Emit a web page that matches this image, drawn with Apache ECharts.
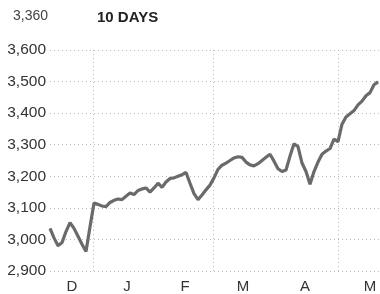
<!DOCTYPE html>
<html>
<head>
<meta charset="utf-8">
<script src="https://cdn.jsdelivr.net/npm/echarts@6/dist/echarts.min.js"></script>
<style>
  html, body { margin: 0; padding: 0; background: #fff; }
  #chart { width: 380px; height: 294px; }
</style>
</head>
<body>
<div id="chart"></div>
<script>
// month labels and where they sit, in sample steps
const months = ['D', 'J', 'F', 'M', 'A', 'M']
const monthPos = [5.5, 19.25, 33.75, 48.25, 63.75, 80]
// dotted vertical guides, in sample steps
const guidePos = [10.75, 40.75, 72]
// index level, sampled evenly from early Dec to late May
const closes = [
  3035, 3005, 2980, 2990, 3025, 3053, 3035, 3010, 2985, 2962,
  3040, 3115, 3111, 3106, 3104, 3117, 3124, 3128, 3126, 3137,
  3147, 3142, 3155, 3160, 3163, 3150, 3163, 3178, 3165, 3182,
  3193, 3195, 3200, 3205, 3212, 3178, 3145, 3126, 3141, 3157,
  3172, 3195, 3222, 3235, 3242, 3250, 3258, 3262, 3260, 3245,
  3236, 3233, 3240, 3250, 3260, 3270, 3248, 3224, 3215, 3220,
  3264, 3303, 3294, 3242, 3215, 3175, 3215, 3245, 3270, 3280,
  3288, 3318, 3310, 3365, 3388, 3398, 3408, 3426, 3438, 3455,
  3465, 3490, 3499
]
const yTicks = { min: 2900, max: 3600, step: 100 }
const headerValue = '3,360'
const headerLabel = '10 DAYS'

const chart = echarts.init(document.getElementById('chart'))
const font = 'Liberation Sans, Arial, sans-serif'
const dotted = { color: '#bbb', width: 1, type: [1, 3] }

const option = {
  animation: false,
  textStyle: { fontFamily: font },
  title: [
    {
      text: headerValue,
      left: 13,
      top: 9,
      padding: 0,
      textStyle: { fontSize: 14, fontWeight: 'normal', color: '#444', fontFamily: font }
    },
    {
      text: headerLabel,
      left: 97,
      top: 10,
      padding: 0,
      textStyle: { fontSize: 15, fontWeight: 'bold', color: '#222', fontFamily: font }
    }
  ],
  grid: { left: 50, right: 0, top: 50, bottom: 15 },
  xAxis: {
    type: 'value',
    min: 0,
    max: 82.5,
    axisLine: { show: false },
    axisTick: { show: false },
    splitLine: { show: false },
    axisLabel: {
      customValues: monthPos,
      color: '#333',
      fontSize: 15,
      margin: 8,
      fontFamily: font,
      formatter: (v) => months[monthPos.indexOf(v)]
    }
  },
  yAxis: {
    type: 'value',
    min: yTicks.min,
    max: yTicks.max,
    interval: yTicks.step,
    axisLine: { show: false },
    axisTick: { show: false },
    axisLabel: {
      color: '#333',
      fontSize: 15.5,
      margin: 4,
      fontFamily: font,
      formatter: (v) => v.toLocaleString('en-US')
    },
    splitLine: { lineStyle: dotted }
  },
  series: [
    {
      type: 'line',
      data: closes.map((v, i) => [i, v]),
      symbol: 'none',
      lineStyle: { color: '#6a6a6a', width: 3.2 },
      z: 5,
      markLine: {
        silent: true,
        symbol: 'none',
        label: { show: false },
        lineStyle: dotted,
        z: 1,
        data: guidePos.map((p) => ({ xAxis: p }))
      }
    }
  ]
}
chart.setOption(option)
</script>
</body>
</html>
